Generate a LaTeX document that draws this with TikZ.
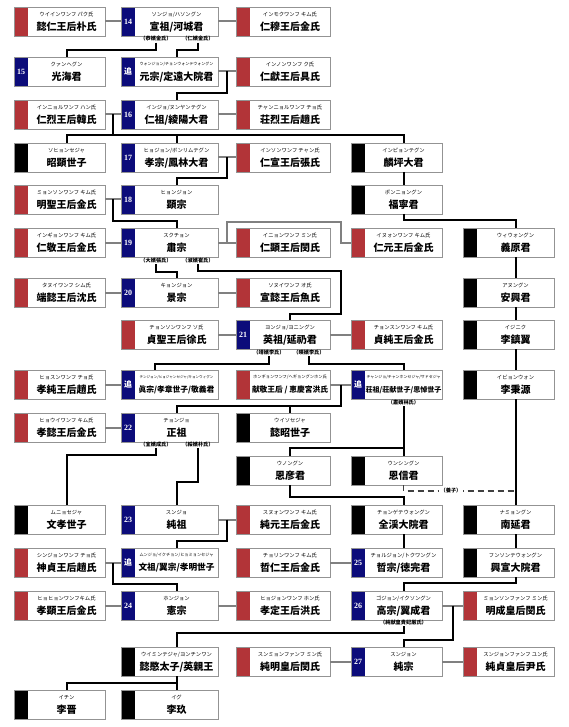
\documentclass[tikz,border=0pt]{standalone}
\usepackage{fontspec}
\setmainfont{Liberation Serif}
\newfontfamily\jp{Noto Sans CJK JP}
\usetikzlibrary{calc}
\definecolor{bred}{RGB}{178,52,56}
\definecolor{bnavy}{RGB}{12,12,122}
\definecolor{bgray}{RGB}{128,128,128}
\newsavebox\fitbox
\newcommand\fitto[2]{\sbox\fitbox{#2}\ifdim\wd\fitbox>#1\relax\resizebox{#1}{!}{\usebox\fitbox}\else\usebox\fitbox\fi}
\tikzset{
 boxsh/.style={rectangle, inner sep=0pt, outer sep=0pt, minimum height=29pt},
 kanaf/.style={inner sep=0pt, font=\jp\fontsize{5.3}{6}\selectfont},
 mainf/.style={inner sep=0pt, font=\jp\bfseries\fontsize{10}{12}\selectfont},
 badge/.style={inner sep=0pt, text=white, font=\bfseries\fontsize{8}{9}\selectfont},
 mlab/.style={inner sep=1pt, font=\jp\bfseries\fontsize{5.2}{6}\selectfont},
 wed/.style={draw=bgray, line width=2pt},
 desc/.style={draw=black, line width=2pt},
 adopt/.style={draw=black!75, line width=1.4pt, dash pattern=on 6pt off 4pt},
 frame/.style={draw=bgray!85, line width=0.9pt},
}
\newcommand\bx[8]{%
 \node[boxsh, minimum width=#4pt, anchor=north west] (#1) at (#2,#3) {};
 \fill[#5] (#1.north west) rectangle ([xshift=14pt]#1.south west);
 \pgfmathsetmacro\wwid{#4-14}
 \node[boxsh, minimum width=\wwid pt, anchor=north east] (#1w) at (#1.north east) {};
 \node[kanaf] (#1k) at ([yshift=-7.5pt]#1w.north) {\fitto{74pt}{#7}};
 \node[mainf] (#1m) at ([yshift=-20pt]#1w.north) {\fitto{76pt}{#8}};
 \node[badge] (#1n) at ([xshift=7pt]#1.west) {#6};
 \draw[frame] (#1.north west) rectangle (#1.south east);
}
\begin{document}
\begin{tikzpicture}[x=1pt,y=-1pt]
\useasboundingbox (0,0) rectangle (568,727);
\fill[white] (0,0) rectangle (568,727);
% row 1
\bx{wi}{14}{7}{91}{bred}{}{ウイインワンフ パク氏}{懿仁王后朴氏}
\bx{s14}{121}{7}{97}{bnavy}{14}{ソンジョ/ハソングン}{宣祖/河城君}
\bx{im}{236}{7}{94}{bred}{}{インモクワンフ キム氏}{仁穆王后金氏}
% row 2
\bx{s15}{14}{57}{91}{bnavy}{15}{クァンヘグン}{光海君}
\bx{wj}{121}{57}{97}{bnavy}{\jp 追}{ウォンジョン/チョンウォンテウォングン}{元宗/定遠大院君}
\bx{ih}{236}{57}{94}{bred}{}{インノンワンフ ク氏}{仁獻王后具氏}
% row 3
\bx{ir}{14}{100}{91}{bred}{}{インニョルワンフ ハン氏}{仁烈王后韓氏}
\bx{s16}{121}{100}{97}{bnavy}{16}{インジョ/ヌンヤンテグン}{仁祖/綾陽大君}
\bx{cr}{236}{100}{94}{bred}{}{チャンニョルワンフ チョ氏}{荘烈王后趙氏}
% row 4
\bx{sh}{14}{143}{91}{black}{}{ソヒョンセジャ}{昭顕世子}
\bx{s17}{121}{143}{97}{bnavy}{17}{ヒョジョン/ボンリムテグン}{孝宗/鳳林大君}
\bx{is}{236}{143}{94}{bred}{}{インソンワンフ チャン氏}{仁宣王后張氏}
\bx{ip}{351}{143}{91}{black}{}{インピョンテグン}{麟坪大君}
% row 5
\bx{ms}{14}{185}{91}{bred}{}{ミョンソンワンフ キム氏}{明聖王后金氏}
\bx{s18}{121}{185}{97}{bnavy}{18}{ヒョンジョン}{顕宗}
\bx{bn}{351}{185}{91}{black}{}{ポンニョングン}{福寧君}
% row 6
\bx{ig}{14}{228}{91}{bred}{}{インギョンワンフ キム氏}{仁敬王后金氏}
\bx{s19}{121}{228}{97}{bnavy}{19}{スクチョン}{肅宗}
\bx{ihy}{236}{228}{94}{bred}{}{イニョンワンフ ミン氏}{仁顕王后閔氏}
\bx{iw}{351}{228}{91}{bred}{}{イヌォンワンフ キム氏}{仁元王后金氏}
\bx{uw}{463}{228}{91}{black}{}{ウィウォングン}{義原君}
% row 7
\bx{tu}{14}{278}{91}{bred}{}{タヌイワンフ シム氏}{端懿王后沈氏}
\bx{s20}{121}{278}{97}{bnavy}{20}{キョンジョン}{景宗}
\bx{su}{236}{278}{94}{bred}{}{ソヌイワンフ オ氏}{宣懿王后魚氏}
\bx{ah}{463}{278}{91}{black}{}{アヌングン}{安興君}
% row 8
\bx{js}{121}{320}{97}{bred}{}{チョンソンワンフ ソ氏}{貞聖王后徐氏}
\bx{s21}{236}{320}{94}{bnavy}{21}{ヨンジョ/ヨニングン}{英祖/延礽君}
\bx{jsk}{351}{320}{91}{bred}{}{チョンスンワンフ キム氏}{貞純王后金氏}
\bx{yj}{463}{320}{91}{black}{}{イジニク}{李鎮翼}
% row 9
\bx{hs}{14}{370}{91}{bred}{}{ヒョスンワンフ チョ氏}{孝純王后趙氏}
\bx{jj}{121}{370}{97}{bnavy}{\jp 追}{チンジョン/ヒョジャンセジャ/キョンウィグン}{眞宗/孝章世子/敬義君}
\bx{hk}{236}{370}{94}{bred}{}{ホンギョンワンフ/ヘギョングンホン氏}{献敬王后 / 恵慶宮洪氏}
\bx{cj}{351}{370}{91}{bnavy}{\jp 追}{チャンジョ/チャンホンセジャ/サドセジャ}{荘祖/荘献世子/思悼世子}
\bx{yb}{463}{370}{91}{black}{}{イビョンウォン}{李秉源}
% row 10
\bx{hu}{14}{413}{91}{bred}{}{ヒョウイワンフ キム氏}{孝懿王后金氏}
\bx{s22}{121}{413}{97}{bnavy}{22}{チョンジョ}{正祖}
\bx{us}{236}{413}{94}{black}{}{ウイソセジャ}{懿昭世子}
% row 11
\bx{ue}{236}{456}{94}{black}{}{ウノングン}{恩彦君}
\bx{un}{351}{456}{91}{black}{}{ウンシングン}{恩信君}
% row 12
\bx{mh}{14}{505}{91}{black}{}{ムニョセジャ}{文孝世子}
\bx{s23}{121}{505}{97}{bnavy}{23}{スンジョ}{純祖}
\bx{sw}{236}{505}{94}{bred}{}{スヌォンワンフ キム氏}{純元王后金氏}
\bx{cg}{351}{505}{91}{black}{}{チョンゲテウォングン}{全渓大院君}
\bx{ny}{463}{505}{91}{black}{}{ナミョングン}{南延君}
% row 13
\bx{sj}{14}{548}{91}{bred}{}{シンジョンワンフ チョ氏}{神貞王后趙氏}
\bx{mj}{121}{548}{97}{bnavy}{\jp 追}{ムンジョ/イクチョン/ヒョミョンセジャ}{文祖/翼宗/孝明世子}
\bx{cri}{236}{548}{94}{bred}{}{チョリンワンフ キム氏}{哲仁王后金氏}
\bx{s25}{351}{548}{91}{bnavy}{25}{チョルジョン/トクワングン}{哲宗/徳完君}
\bx{hsd}{463}{548}{91}{black}{}{フンソンテウォングン}{興宣大院君}
% row 14
\bx{hh}{14}{591}{91}{bred}{}{ヒョヒョンワンフキム氏}{孝顕王后金氏}
\bx{s24}{121}{591}{97}{bnavy}{24}{ホンジョン}{憲宗}
\bx{hj}{236}{591}{94}{bred}{}{ヒョジョンワンフ ホン氏}{孝定王后洪氏}
\bx{s26}{351}{591}{91}{bnavy}{26}{ゴジョン/イクソングン}{高宗/翼成君}
\bx{mse}{463}{591}{91}{bred}{}{ミョンソンファンフ ミン氏}{明成皇后閔氏}
% row 15
\bx{ym}{121}{647}{97}{black}{}{ウイミンテジャ/ヨンチンワン}{懿愍太子/英親王}
\bx{smh}{236}{647}{94}{bred}{}{スンミョンファンフ ミン氏}{純明皇后閔氏}
\bx{s27}{351}{647}{91}{bnavy}{27}{スンジョン}{純宗}
\bx{sjh}{463}{647}{91}{bred}{}{スンジョンファンフ ユン氏}{純貞皇后尹氏}
% row 16
\bx{yc}{14}{690}{91}{black}{}{イチン}{李晋}
\bx{yg}{121}{690}{97}{black}{}{イグ}{李玖}
% mother labels
\node[mlab] (l14a) at (156,39) {（恭嬪金氏）};
\node[mlab] (l14b) at (198,39) {（仁嬪金氏）};
\node[mlab] (l19a) at (156,260.5) {（大嬪張氏）};
\node[mlab] (l19b) at (198,260.5) {（淑嬪崔氏）};
\node[mlab] (l21a) at (269,352.5) {（靖嬪李氏）};
\node[mlab] (l21b) at (309,352.5) {（暎嬪李氏）};
\node[mlab] (lcj) at (403.5,402.5) {（肅嬪林氏）};
\node[mlab] (l22a) at (156,444.5) {（宜嬪成氏）};
\node[mlab] (l22b) at (198,444.5) {（綏嬪朴氏）};
\node[mlab] (l26) at (403.5,622.5) {（純献皇貴妃厳氏）};
% marriages
\foreach \a/\b in {wi/s14, s14/im, wj/ih, ir/s16, s16/cr, s17/is, ms/s18, ig/s19, s19/ihy, tu/s20, s20/su, js/s21, s21/jsk, hs/jj, hk/cj, hu/s22, s23/sw, sj/mj, cri/s25, hh/s24, s24/hj, s26/mse, smh/s27, s27/sjh}
  \draw[wed] (\a.east) -- (\b.west);
\coordinate (r19a) at (227,222);
\coordinate (r19b) at (341,222);
\draw[wed] (s19.east) -| (r19a) -- (r19b) |- (iw.west);
% descents
\coordinate (m2) at ($(wj.east)!.5!(ih.west)$);
\coordinate (m3) at ($(ir.east)!.5!(s16.west)$);
\coordinate (m4) at ($(s17.east)!.5!(is.west)$);
\coordinate (m5) at ($(ms.east)!.5!(s18.west)$);
\coordinate (m9) at ($(hk.east)!.5!(cj.west)$);
\coordinate (m12) at ($(s23.east)!.5!(sw.west)$);
\coordinate (m13) at ($(sj.east)!.5!(mj.west)$);
\coordinate (m14) at ($(s26.east)!.5!(mse.west)$);
\coordinate (r21) at (341,314);
\coordinate (jjin) at ([xshift=34pt]jj.north west);
\draw[desc] (l14a.south) |- (s15w.north |- 0,50) -- (s15w.north);
\draw[desc] (l14b.south) |- (wjw.north |- 0,50) -- (wjw.north);
\draw[desc] (m2) |- (s16w.north |- 0,93) -- (s16w.north);
\draw[desc] (m3) -- (m3 |- 0,135);
\draw[desc] (shw.north) |- (ipw.north |- 0,135) -- (ipw.north);
\draw[desc] (s17w.north) -- (s17w.north |- 0,135);
\draw[desc] (m4) |- (s18w.north |- 0,178) -- (s18w.north);
\draw[desc] (ipw.south) -- (bnw.north);
\draw[desc] (m5) |- (s19w.north |- 0,221) -- (s19w.north);
\draw[desc] (bnw.south) |- (uww.north |- 0,220) -- (uww.north);
\draw[desc] (l19a.south) |- (s20w.north |- 0,272) -- (s20w.north);
\draw[desc] (l19b.south) |- (r21 |- 0,271) -- (r21) -| (s21w.north);
\draw[desc] (uww.south) -- (ahw.north);
\draw[desc] (ahw.south) -- (yjw.north);
\draw[desc] (yjw.south) -- (ybw.north);
\draw[desc] (ybw.south) -- (nyw.north);
\draw[desc] (l21a.south) |- (jjin |- 0,364) -- (jjin);
\draw[desc] (l21b.south) |- (cjw.north |- 0,364) -- (cjw.north);
\draw[desc] (m9) |- (s22w.north |- 0,406) -- (s22w.north);
\draw[desc] (usw.north) -- (usw.north |- 0,406);
\draw[desc] (lcj.south) -- (unw.north);
\draw[desc] (uew.north) |- (unw.north |- 0,448);
\draw[desc] (l22a.south) |- (mhw.north |- 0,455) -- (mhw.north);
\draw[desc] (l22b.south) |- (s23w.north |- 0,482) -- (s23w.north);
\draw[desc] (uew.south) |- (cgw.north |- 0,497) -- (cgw.north);
\draw[adopt] (unw.south) |- (ybw.south |- 0,491);
\node[mlab, fill=white, inner sep=1.5pt] (lyz) at (451,491) {（養子）};
\draw[desc] (m12) |- (mjw.north |- 0,541) -- (mjw.north);
\draw[desc] (cgw.south) -- (s25w.north);
\draw[desc] (nyw.south) -- (hsdw.north);
\draw[desc] (m13) |- (s24w.north |- 0,584) -- (s24w.north);
\draw[desc] (hsdw.south) |- (s26w.north |- 0,583) -- (s26w.north);
\draw[desc] (l26.south) |- (ymw.north |- 0,633) -- (ymw.north);
\draw[desc] (m14) |- (s27w.north |- 0,640) -- (s27w.north);
\draw[desc] (ymw.south) |- (ycw.north |- 0,683) -- (ycw.north);
\draw[desc] (ymw.south) -- (ygw.north);
\end{tikzpicture}
\end{document}
